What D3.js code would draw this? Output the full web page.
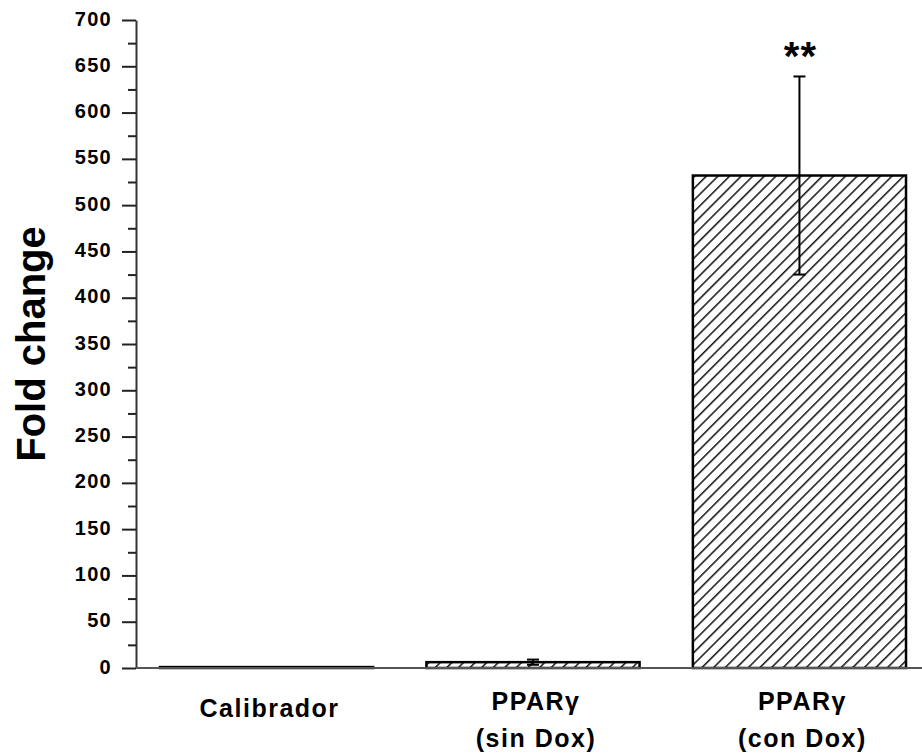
<!DOCTYPE html>
<html>
<head>
<meta charset="utf-8">
<script src="https://cdn.jsdelivr.net/npm/d3@7/dist/d3.min.js"></script>
<style>
  html, body { margin: 0; padding: 0; background: #fff; }
  svg { display: block; }
  text { font-family: "Liberation Sans", Arial, sans-serif; font-weight: bold; fill: #000; }
</style>
</head>
<body>
<svg id="chart" width="922" height="755"></svg>
<script>
// Fold change per condition (mean ± error)
const categories = ["Calibrador", "PPARγ (sin Dox)", "PPARγ (con Dox)"];
const labelLines = [["Calibrador"], ["PPARγ", "(sin Dox)"], ["PPARγ", "(con Dox)"]];
const values = [1, 6.3, 532];
const errors = [0, 2.8, 107];
const significance = ["", "", "**"];
const yMajorTicks = d3.range(0, 701, 50);
const yMinorTicks = d3.range(25, 700, 50);

const svg = d3.select("#chart");

const x = d3.scaleBand()
  .domain(categories)
  .range([136, 930])
  .paddingInner(0.2)
  .paddingOuter(0.09);

const y = d3.scaleLinear().domain([0, 700]).range([668, 20]);

// diagonal hatch fill for the bars
const defs = svg.append("defs");
const pat = defs.append("pattern")
  .attr("id", "hatch")
  .attr("patternUnits", "userSpaceOnUse")
  .attr("width", 8.2)
  .attr("height", 8.2)
  .attr("patternTransform", "rotate(45)");
pat.append("rect").attr("width", 8.2).attr("height", 8.2).attr("fill", "#fff");
pat.append("line")
  .attr("x1", 0.8).attr("y1", 0).attr("x2", 0.8).attr("y2", 8.2)
  .attr("stroke", "#000").attr("stroke-width", 1.4);

// bars
svg.append("g").selectAll("rect")
  .data(categories)
  .join("rect")
  .attr("x", d => x(d))
  .attr("width", x.bandwidth())
  .attr("y", (d, i) => y(values[i]))
  .attr("height", (d, i) => y(0) - y(values[i]))
  .attr("fill", "url(#hatch)")
  .attr("stroke", "#000")
  .attr("stroke-width", 2.5);

// error bars
const eg = svg.append("g").attr("stroke", "#000").attr("stroke-width", 2);
categories.forEach((c, i) => {
  if (!errors[i]) return;
  const cx = x(c) + x.bandwidth() / 2;
  const hi = y(values[i] + errors[i]);
  const lo = y(values[i] - errors[i]);
  eg.append("line").attr("x1", cx).attr("x2", cx).attr("y1", hi).attr("y2", lo);
  eg.append("line").attr("x1", cx - 6).attr("x2", cx + 6).attr("y1", hi).attr("y2", hi);
  eg.append("line").attr("x1", cx - 6).attr("x2", cx + 6).attr("y1", lo).attr("y2", lo);
});

// significance marks above error bars
svg.append("g").selectAll("text")
  .data(categories)
  .join("text")
  .attr("x", d => x(d) + x.bandwidth() / 2 + 1)
  .attr("y", (d, i) => y(values[i] + errors[i]) - 6)
  .attr("text-anchor", "middle")
  .style("font-size", "40px")
  .style("letter-spacing", "1px")
  .text((d, i) => significance[i]);

// y axis
const yAxis = d3.axisLeft(y)
  .tickValues(yMajorTicks)
  .tickSize(14)
  .tickPadding(10)
  .tickSizeOuter(0)
  .tickFormat(d3.format("d"));
const ya = svg.append("g").attr("transform", "translate(136,0)").call(yAxis);
ya.select(".domain").attr("stroke", "#333").attr("stroke-width", 2);
ya.selectAll(".tick line").attr("stroke", "#222").attr("stroke-width", 2);
ya.selectAll(".tick text")
  .attr("dy", null).attr("y", 5)
  .style("font-size", "20px")
  .style("letter-spacing", "1.3px")
  .style("font-family", "'Liberation Sans', Arial, sans-serif")
  .style("font-weight", "bold")
  .attr("fill", "#000");

const yMinor = d3.axisLeft(y).tickValues(yMinorTicks).tickSize(8).tickFormat("");
const ym = svg.append("g").attr("transform", "translate(136,0)").call(yMinor);
ym.select(".domain").remove();
ym.selectAll(".tick line").attr("stroke", "#222").attr("stroke-width", 2);

// x axis baseline
const xAxis = d3.axisBottom(x).tickSize(0).tickSizeOuter(0).tickFormat("");
const xa = svg.append("g").attr("transform", `translate(0,${y(0)})`).call(xAxis);
xa.select(".domain").attr("d", "M136,0H922").attr("stroke", "#555").attr("stroke-width", 2);

// category labels
const lg = svg.append("g");
categories.forEach((c, i) => {
  const lines = labelLines[i];
  const t = lg.append("text")
    .attr("x", x(c) + x.bandwidth() / 2 + 3)
    .attr("text-anchor", "middle")
    .style("font-size", "25px")
    .style("letter-spacing", "1.5px");
  if (lines.length === 1) {
    t.attr("y", 717).text(lines[0]);
  } else {
    lines.forEach((ln, k) => {
      t.append("tspan")
        .attr("x", x(c) + x.bandwidth() / 2 + 3)
        .attr("y", 710 + k * 37)
        .text(ln);
    });
  }
});

// y axis title
svg.append("text")
  .attr("transform", "translate(45,344) rotate(-90)")
  .attr("text-anchor", "middle")
  .style("font-size", "40px")
  .text("Fold change");
</script>
</body>
</html>
